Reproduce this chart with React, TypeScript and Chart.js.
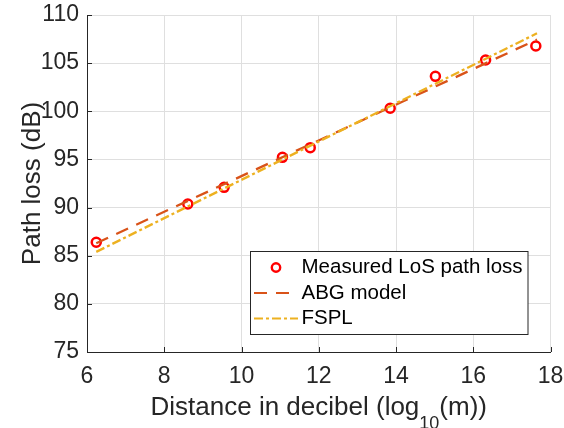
import React, { useEffect, useRef } from "react";
import { Chart, registerables } from "chart.js";

Chart.register(...registerables);

// ---- data ----
const distanceDb = [6.24, 8.61, 9.55, 11.06, 11.78, 13.85, 15.02, 16.32, 17.62];
const measuredLoss = [86.4, 90.37, 92.1, 95.22, 96.22, 100.31, 103.63, 105.33, 106.78];
const modelDistance = [6.24, 17.65];
const abgLoss = [86.3, 107.45];
const fsplLoss = [85.4, 108.1];
const xTicks = [6, 8, 10, 12, 14, 16, 18];
const yTicks = [75, 80, 85, 90, 95, 100, 105, 110];
const seriesNames = ["Measured LoS path loss", "ABG model", "FSPL"];
const xTitleParts = ["Distance in decibel (log", "10", "(m))"];
const yTitle = "Path loss (dB)";

const FONT = "'Liberation Sans', Arial, Helvetica, sans-serif";
const TEXT = "#262626";
const RED = "#ff0000";
const ABG = "#D95319";
const FSPL = "#EDB120";
const ABG_DASH = [13, 9];
const FSPL_DASH = [9, 3, 3, 3];

const decorPlugin = {
  id: "decor",
  afterDraw(chart: any) {
    const ctx = chart.ctx as CanvasRenderingContext2D;
    const area = chart.chartArea;
    const xs = chart.scales.x;
    const ys = chart.scales.y;
    ctx.save();
    // inward tick marks
    ctx.strokeStyle = TEXT;
    ctx.lineWidth = 1;
    ctx.setLineDash([]);
    ctx.beginPath();
    yTicks.forEach((v) => {
      const py = Math.round(ys.getPixelForValue(v)) + 0.5;
      ctx.moveTo(area.left, py);
      ctx.lineTo(area.left + 5, py);
    });
    xTicks.forEach((v) => {
      const px = Math.round(xs.getPixelForValue(v)) + 0.5;
      ctx.moveTo(px, area.bottom);
      ctx.lineTo(px, area.bottom - 5);
    });
    ctx.stroke();

    // y title
    ctx.fillStyle = TEXT;
    ctx.font = `26px ${FONT}`;
    ctx.textBaseline = "alphabetic";
    ctx.textAlign = "center";
    ctx.save();
    ctx.translate(40, (area.top + area.bottom) / 2);
    ctx.rotate(-Math.PI / 2);
    ctx.fillText(yTitle, 0, 0);
    ctx.restore();

    // x title with subscript
    const mainFont = `26px ${FONT}`;
    const subFont = `18px ${FONT}`;
    ctx.textAlign = "left";
    ctx.font = mainFont;
    const w0 = ctx.measureText(xTitleParts[0]).width;
    const w2 = ctx.measureText(xTitleParts[2]).width;
    ctx.font = subFont;
    const w1 = ctx.measureText(xTitleParts[1]).width;
    const total = w0 + w1 + w2;
    let tx = (area.left + area.right) / 2 - total / 2;
    const base = 415;
    ctx.font = mainFont;
    ctx.fillText(xTitleParts[0], tx, base);
    tx += w0;
    ctx.font = subFont;
    ctx.fillText(xTitleParts[1], tx, base + 14);
    tx += w1;
    ctx.font = mainFont;
    ctx.fillText(xTitleParts[2], tx, base);

    // legend
    const bx = 250.5, by = 251.5, bw = 277.5, bh = 83;
    ctx.fillStyle = "#ffffff";
    ctx.fillRect(bx, by, bw, bh);
    ctx.strokeStyle = TEXT;
    ctx.lineWidth = 1;
    ctx.strokeRect(bx, by, bw, bh);
    const rows = [267.5, 293, 318.5];
    ctx.strokeStyle = RED;
    ctx.lineWidth = 2.4;
    ctx.beginPath();
    ctx.arc(276, rows[0], 4.2, 0, Math.PI * 2);
    ctx.stroke();
    ctx.strokeStyle = ABG;
    ctx.lineWidth = 2.2;
    ctx.setLineDash(ABG_DASH);
    ctx.beginPath();
    ctx.moveTo(254, rows[1]);
    ctx.lineTo(290, rows[1]);
    ctx.stroke();
    ctx.strokeStyle = FSPL;
    ctx.setLineDash(FSPL_DASH);
    ctx.beginPath();
    ctx.moveTo(254, rows[2]);
    ctx.lineTo(298, rows[2]);
    ctx.stroke();
    ctx.setLineDash([]);
    ctx.fillStyle = "#000000";
    ctx.font = `20.5px ${FONT}`;
    ctx.textBaseline = "middle";
    ctx.textAlign = "left";
    seriesNames.forEach((n, i) => ctx.fillText(n, 301.5, rows[i]));
    ctx.restore();
  },
};

export default function App() {
  const ref = useRef<HTMLCanvasElement | null>(null);
  useEffect(() => {
    if (!ref.current) return;
    const chart = new Chart(ref.current, {
      type: "scatter",
      data: {
        datasets: [
          {
            label: seriesNames[0],
            data: distanceDb.map((x, i) => ({ x, y: measuredLoss[i] })),
            showLine: false,
            pointStyle: "circle",
            pointRadius: 4.5,
            pointBorderWidth: 2.5,
            pointBorderColor: RED,
            pointBackgroundColor: "rgba(0,0,0,0)",
            order: 2,
          },
          {
            label: seriesNames[1],
            data: modelDistance.map((x, i) => ({ x, y: abgLoss[i] })),
            showLine: true,
            borderColor: ABG,
            borderWidth: 2.3,
            borderDash: ABG_DASH,
            pointRadius: 0,
            order: 1,
          },
          {
            label: seriesNames[2],
            data: modelDistance.map((x, i) => ({ x, y: fsplLoss[i] })),
            showLine: true,
            borderColor: FSPL,
            borderWidth: 2.3,
            borderDash: FSPL_DASH,
            pointRadius: 0,
            order: 0,
          },
        ],
      },
      options: {
        responsive: false,
        animation: false,
        devicePixelRatio: 1,
        layout: { padding: 0 },
        plugins: {
          legend: { display: false },
          tooltip: { enabled: false },
          title: { display: false },
        },
        scales: {
          x: {
            type: "linear",
            min: 6,
            max: 18,
            afterBuildTicks: (s: any) => {
              s.ticks = xTicks.map((v) => ({ value: v }));
            },
            afterFit: (s: any) => {
              s.height = 76;
              s.paddingLeft = 0;
              s.paddingRight = 13.5;
            },
            grid: { color: "#dfdfdf", lineWidth: 1, drawTicks: false },
            border: { display: true, color: TEXT, width: 1 },
            ticks: {
              padding: 11,
              color: TEXT,
              font: { family: FONT, size: 23 },
              maxRotation: 0,
              autoSkip: false,
            },
          },
          y: {
            type: "linear",
            min: 75,
            max: 110,
            afterBuildTicks: (s: any) => {
              s.ticks = yTicks.map((v) => ({ value: v }));
            },
            afterFit: (s: any) => {
              s.width = 87;
              s.paddingTop = 15;
              s.paddingBottom = 0;
            },
            grid: { color: "#dfdfdf", lineWidth: 1, drawTicks: false },
            border: { display: true, color: TEXT, width: 1 },
            ticks: {
              padding: 8,
              color: TEXT,
              font: { family: FONT, size: 23 },
              autoSkip: false,
            },
          },
        },
      },
      plugins: [decorPlugin],
    });
    return () => chart.destroy();
  }, []);
  return (
    <div style={{ position: "absolute", left: 0, top: 0, width: 564, height: 428, background: "#fff" }}>
      <canvas ref={ref} width={564} height={428} />
    </div>
  );
}
